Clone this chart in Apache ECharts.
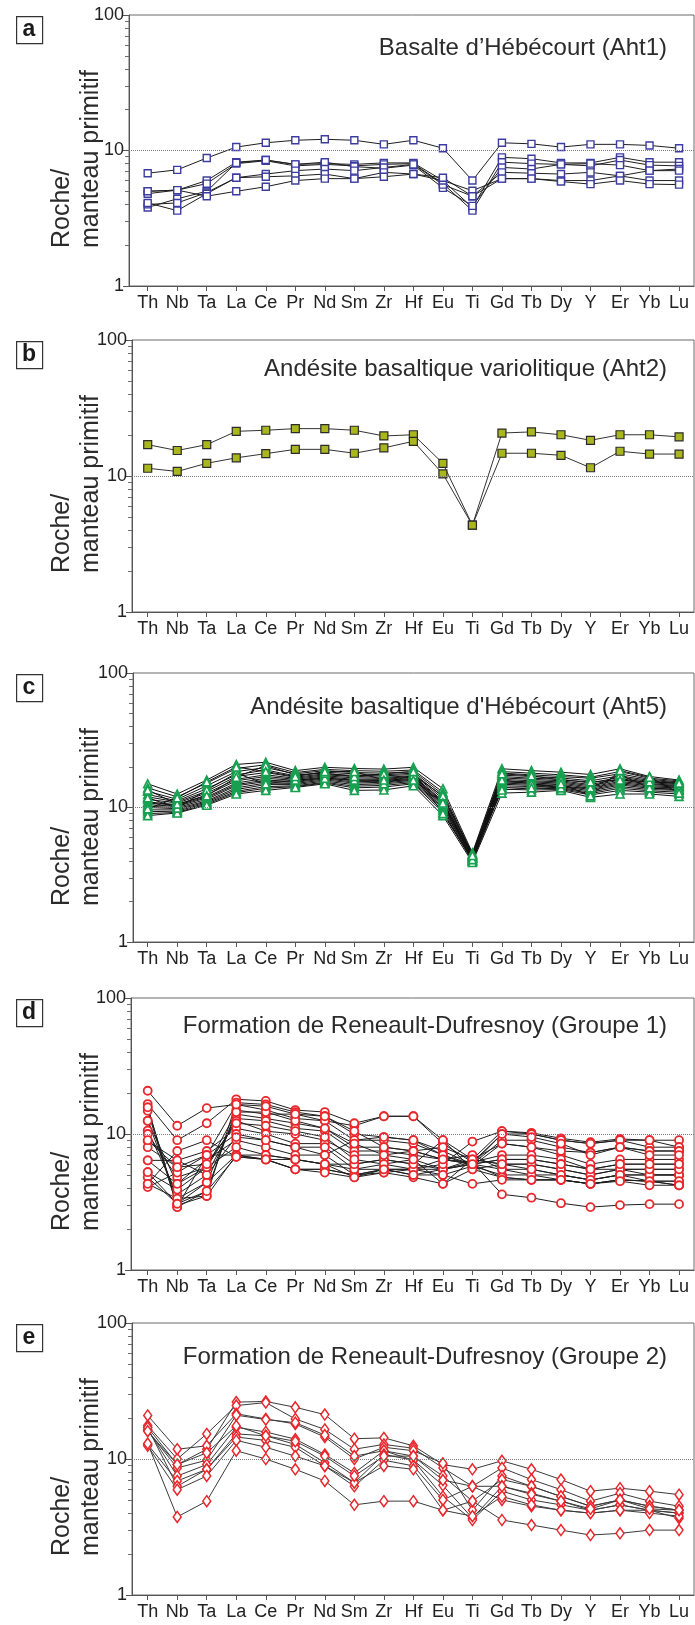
<!DOCTYPE html>
<html><head><meta charset="utf-8">
<script src="https://cdn.jsdelivr.net/npm/echarts@6/dist/echarts.min.js"></script>
<style>html,body{margin:0;padding:0;background:#fff}#c{width:695px;height:1625px}</style>
</head><body><div id="c"></div>
<script>
// ---------- DATA ----------
const elements = ['Th','Nb','Ta','La','Ce','Pr','Nd','Sm','Zr','Hf','Eu','Ti','Gd','Tb','Dy','Y','Er','Yb','Lu'];
const yTickValues = [1, 10, 100];
const minorTickValues = [2,3,4,5,6,7,8,9,20,30,40,50,60,70,80,90];
const referenceLine = 10;

const panelTitles = [
  'Basalte d\u2019Hébécourt (Aht1)',
  'Andésite basaltique variolitique (Aht2)',
  "Andésite basaltique d'Hébécourt (Aht5)",
  'Formation de Reneault-Dufresnoy (Groupe 1)',
  'Formation de Reneault-Dufresnoy (Groupe 2)'
];
const panelLetters = ['a','b','c','d','e'];

// (a) Basalte d'Hébécourt (Aht1)
const aht1 = [
  [6.8,7.2,8.8,10.6,11.4,11.9,12.1,11.9,11.1,11.9,10.4,6.0,11.4,11.2,10.6,11.1,11.1,10.9,10.4],
  [5.0,5.1,6.0,8.2,8.5,7.9,8.0,7.9,8.1,8.1,6.0,3.8,8.9,8.7,8.1,8.1,8.9,8.2,8.2],
  [4.8,5.1,5.7,8.0,8.4,7.7,7.9,7.7,7.9,8.0,5.7,3.6,8.2,8.0,7.9,7.7,8.5,7.8,7.7],
  [3.8,4.4,5.0,8.1,8.5,7.9,8.2,7.6,7.4,7.8,5.3,3.9,7.5,7.3,7.9,8.0,7.8,7.1,7.3],
  [4.0,4.1,4.9,6.3,6.7,7.1,7.3,7.1,7.5,7.9,5.6,4.6,6.9,6.8,6.7,6.9,6.5,7.1,7.1],
  [4.1,3.6,4.8,6.3,6.4,6.5,6.7,6.2,6.9,6.7,6.0,5.05,6.2,6.2,6.0,6.0,6.5,6.0,6.0],
  [5.0,5.1,4.6,5.0,5.4,6.0,6.2,6.2,6.4,6.7,6.3,4.6,6.2,6.2,5.9,5.65,6.0,5.65,5.6]
];

// (b) Andésite basaltique variolitique (Aht2)
const aht2 = [
  [17.0,15.4,17.0,21.3,21.7,22.3,22.3,21.7,19.7,20.1,12.4,4.35,20.7,21.1,20.1,18.3,20.1,20.1,19.4],
  [11.4,10.8,12.4,13.6,14.6,15.7,15.7,14.7,16.1,18.0,10.35,4.35,14.7,14.7,14.2,11.5,15.2,14.5,14.5]
];

// (c) Andésite basaltique d'Hébécourt (Aht5)
const aht5 = [
  [15.0,12.6,16.0,20.9,21.7,18.8,19.9,19.5,19.3,19.9,13.8,4.6,19.4,18.8,18.3,17.6,19.4,17.0,16.0],
  [14.0,12.0,15.2,19.5,20.8,18.2,19.2,18.8,18.6,19.0,13.0,4.5,18.5,18.0,17.5,16.8,18.5,16.5,15.8],
  [13.2,11.5,14.5,18.5,19.8,17.8,18.8,18.2,18.0,18.5,12.5,4.4,18.0,17.5,17.0,16.5,17.8,16.2,15.5],
  [12.5,11.2,13.8,17.5,19.0,17.2,18.3,17.8,17.5,18.0,12.0,4.4,17.4,17.0,16.6,15.8,17.2,15.9,15.3],
  [12.0,11.0,13.2,17.0,18.2,16.8,17.8,17.3,17.2,17.6,11.6,4.3,17.0,16.5,16.2,15.2,16.8,15.6,15.0],
  [11.5,10.8,12.8,16.2,17.5,16.5,17.5,17.0,16.8,17.2,11.2,4.3,16.6,16.2,15.8,14.8,16.4,15.3,14.8],
  [11.0,10.5,12.4,15.8,17.0,16.2,17.2,16.6,16.5,17.0,11.0,4.3,16.2,15.8,15.5,14.5,16.0,15.0,14.6],
  [10.8,10.4,12.0,15.2,16.5,15.9,16.9,16.2,16.2,16.8,10.8,4.2,15.8,15.5,15.2,14.2,15.6,14.8,14.4],
  [10.5,10.2,11.8,14.8,16.0,15.6,16.6,15.8,15.9,16.5,10.5,4.2,15.5,15.2,14.9,13.9,15.3,14.5,14.2],
  [10.2,10.0,11.5,14.5,15.6,15.4,16.3,15.5,15.6,16.2,10.3,4.2,15.2,14.9,14.6,13.6,15.0,14.2,14.0],
  [10.0,9.8,11.2,14.0,15.2,15.1,16.0,15.2,15.3,15.9,10.0,4.1,14.9,14.6,14.3,13.3,14.7,13.9,13.7],
  [9.6,9.6,11.0,13.6,14.8,14.8,15.7,14.8,15.0,15.6,9.8,4.1,14.5,14.3,14.0,13.0,14.3,13.6,13.4],
  [9.3,9.4,10.8,13.2,14.3,14.5,15.4,14.4,14.6,15.3,9.5,4.0,14.1,13.9,13.8,12.7,13.9,13.3,13.0],
  [9.0,9.2,10.6,12.9,13.9,14.3,15.2,14.0,14.2,15.0,9.2,4.0,13.7,13.5,13.6,12.4,13.4,13.0,12.6],
  [8.7,9.1,10.4,12.6,13.4,14.1,15.0,13.4,13.5,14.5,8.7,3.9,12.8,13.0,13.4,11.9,12.6,12.6,12.1],
  [11.8,9.9,13.5,18.0,15.0,16.0,16.5,16.0,15.0,17.5,12.2,4.5,16.0,15.0,14.0,14.0,17.5,14.0,13.5],
  [13.5,10.6,12.2,16.8,20.5,17.5,18.0,17.0,17.8,18.5,9.0,4.1,17.8,17.2,16.0,15.5,16.0,15.5,15.2],
  [9.8,11.8,15.5,20.0,18.5,17.0,18.5,18.5,16.0,16.0,10.8,4.4,13.5,14.0,15.0,12.2,18.8,16.8,12.8]
];

// (d) Formation de Reneault-Dufresnoy (Groupe 1)
const groupe1 = [
  [20.8,11.5,15.5,16.5,15.0,13.0,12.5,11.5,13.5,13.5,9.0,6.5,10.5,10.2,9.3,8.7,9.2,9.0,9.0],
  [16.6,9.0,12.0,18.0,17.5,15.0,14.5,12.0,13.5,13.5,8.5,6.2,10.0,10.0,9.0,8.5,9.0,8.0,8.0],
  [15.7,3.0,3.5,17.0,16.5,14.5,13.5,10.0,9.5,9.0,7.5,6.0,9.0,9.0,8.0,7.3,8.0,7.5,7.5],
  [14.8,2.9,3.8,15.0,14.0,14.0,12.5,9.0,9.0,8.5,7.0,5.8,8.5,8.0,7.0,6.0,6.5,6.5,6.5],
  [12.5,3.35,4.4,14.0,13.0,12.0,11.0,8.0,8.0,7.5,6.5,6.2,7.0,7.0,6.5,5.5,6.0,6.0,6.0],
  [10.6,3.6,5.0,13.0,12.5,11.0,10.5,7.5,7.5,7.0,6.5,6.0,6.5,6.5,6.0,5.5,5.5,5.5,5.5],
  [10.0,4.8,5.7,12.5,10.5,10.0,9.0,7.0,7.0,6.5,5.5,6.5,6.0,6.0,5.5,5.0,5.5,5.0,5.0],
  [8.9,6.4,7.5,11.0,10.0,8.5,8.5,6.0,6.5,6.0,5.5,6.0,5.5,5.5,5.0,4.6,5.0,5.0,5.0],
  [8.0,5.7,7.0,10.0,9.0,8.0,8.0,5.5,6.0,5.5,5.0,5.8,5.0,5.0,4.6,4.3,4.6,4.5,4.5],
  [6.4,4.3,6.5,9.0,8.0,7.0,7.0,5.0,5.5,5.5,5.5,6.0,4.8,4.6,4.6,4.3,4.6,4.5,4.2],
  [5.24,3.9,5.7,8.0,7.0,6.5,6.0,4.8,5.2,4.8,4.3,5.5,4.8,4.6,4.6,4.3,4.6,4.5,4.2],
  [4.8,3.07,4.4,7.0,6.5,5.5,5.5,5.0,5.5,5.0,5.5,6.2,3.6,3.4,3.1,2.9,3.0,3.05,3.05],
  [4.3,7.5,9.0,6.8,6.5,5.5,5.5,5.0,5.2,5.5,6.5,7.0,5.5,5.0,5.0,4.6,5.0,5.0,5.0],
  [4.07,5.2,7.0,7.0,7.0,6.5,6.0,5.5,5.5,5.5,6.0,8.8,10.5,10.0,9.0,8.5,9.0,9.0,8.0],
  [4.3,3.35,3.5,7.0,6.5,6.5,6.0,6.0,6.5,6.0,9.0,5.5,6.0,6.0,5.5,5.0,5.5,5.5,5.5],
  [6.4,6.4,5.0,9.5,9.0,8.0,7.0,9.0,9.5,9.0,7.0,6.0,6.5,6.5,6.0,5.5,6.0,6.0,6.0],
  [12.5,4.3,5.7,14.5,14.5,12.5,11.0,8.5,7.0,7.5,8.0,6.5,8.5,8.0,7.5,7.3,8.0,7.5,7.5],
  [9.0,5.7,6.0,12.0,11.5,10.5,9.5,6.5,6.0,6.5,4.3,6.5,6.0,5.5,5.0,4.6,5.0,4.5,4.5],
  [15.7,2.9,7.0,16.5,16.0,14.0,13.5,10.5,8.0,7.5,6.5,6.0,10.0,9.5,8.5,7.0,8.0,7.0,7.0],
  [5.24,3.07,3.8,6.8,6.5,5.5,5.2,4.8,5.5,5.0,5.0,4.3,4.6,4.6,4.6,4.3,4.5,4.2,4.2]
];

// (e) Formation de Reneault-Dufresnoy (Groupe 2)
const groupe2 = [
  [17.1,9.1,11.8,26.2,26.5,24.0,21.2,14.1,14.3,12.5,9.1,8.4,9.7,8.4,7.06,5.8,6.1,5.8,5.47],
  [17.6,10.0,15.3,24.7,26.0,19.7,16.5,11.8,12.8,12.0,8.6,6.3,8.6,7.06,5.95,4.9,5.6,4.9,4.5],
  [20.9,11.8,12.5,21.5,19.7,18.1,14.5,10.0,12.2,11.5,9.3,4.2,7.5,6.3,5.3,4.5,5.0,4.5,4.2],
  [16.1,8.6,9.8,21.0,19.5,18.5,15.0,10.5,11.5,10.5,7.5,4.9,7.06,6.3,5.3,4.5,5.0,4.5,4.2],
  [16.5,7.5,9.1,17.1,15.8,14.0,10.8,7.9,11.5,9.8,6.4,3.67,6.3,5.6,4.9,4.2,4.6,4.2,4.0],
  [12.8,6.9,8.4,15.3,14.8,12.8,9.4,6.7,10.8,9.8,5.3,3.56,5.8,5.0,4.6,4.2,4.6,4.2,4.0],
  [17.0,6.3,8.4,14.5,13.7,12.2,8.9,6.3,9.8,8.9,5.0,6.3,5.0,4.5,4.2,4.0,4.2,4.2,3.67],
  [12.5,5.95,7.5,13.7,12.2,10.5,8.9,6.7,8.9,8.4,4.2,3.8,5.3,4.6,4.2,4.0,4.2,4.0,3.8],
  [13.0,3.75,4.9,11.5,10.0,8.4,6.9,4.6,4.9,4.9,4.2,4.9,3.56,3.27,3.0,2.76,2.84,3.0,3.0],
  [16.0,9.1,11.1,17.5,14.8,13.5,10.5,7.5,10.5,10.5,7.0,6.3,6.3,5.5,4.9,4.3,5.0,4.3,4.2]
];

const panelData = [aht1, aht2, aht5, groupe1, groupe2];

// ---------- LAYOUT / STYLE ----------
const FONT = '"Liberation Sans", Arial, Helvetica, sans-serif';
const layout = [
  {top: 15,   bottom: 286,  left: 129, titleY: 49},
  {top: 340,  bottom: 612,  left: 132, titleY: 370},
  {top: 673,  bottom: 942,  left: 133, titleY: 708},
  {top: 998,  bottom: 1270, left: 131, titleY: 1027},
  {top: 1323, bottom: 1595, left: 132, titleY: 1358}
];
const PLOT_RIGHT = 694, FIRST_X = 147.7, STEP = 29.52;

const markerStyles = [
  {symbol: 'rect', size: 7, fill: '#ffffff', stroke: '#3c3ca0', bw: 1.4, line: '#1e1e1e'},
  {symbol: 'rect', size: 8, fill: '#a9b61e', stroke: '#2a2a2a', bw: 1.2, line: '#333333'},
  {symbol: 'triangle', size: 8, fill: '#ffffff', stroke: '#17a050', bw: 1.6, line: '#111111'},
  {symbol: 'circle', size: 8, fill: '#ffffff', stroke: '#e8262b', bw: 1.8, line: '#1e1e1e'},
  {symbol: 'diamond', size: [8, 11], fill: '#ffffff', stroke: '#e8262b', bw: 1.5, line: '#3a3a3a'}
];

const chart = echarts.init(document.getElementById('c'), null, {renderer: 'canvas'});

const grid = [], xAxis = [], yAxis = [], series = [], graphic = [], title = [];
const idx = elements.map((e, i) => i);

layout.forEach((L, p) => {
  grid.push({left: L.left, right: 695 - PLOT_RIGHT, top: L.top, height: L.bottom - L.top,
    show: true, borderColor: '#6a6a6a', borderWidth: 1, backgroundColor: 'transparent'});
  xAxis.push({
    type: 'value', gridIndex: p,
    min: -(FIRST_X - L.left) / STEP,
    max: (PLOT_RIGHT - FIRST_X) / STEP,
    axisLine: {show: true, onZero: false, lineStyle: {color: '#555', width: 1}},
    axisTick: {show: true, length: 5, customValues: idx, lineStyle: {color: '#555'}},
    axisLabel: {show: true, customValues: idx, margin: 8, fontSize: 18, color: '#222', fontFamily: FONT,
      formatter: v => elements[Math.round(v)]},
    splitLine: {show: false}
  });
  // major axis: labels and ticks at 1 / 10 / 100
  yAxis.push({
    type: 'log', logBase: 10, min: 1, max: 100, gridIndex: p,
    axisLine: {show: true, onZero: false, lineStyle: {color: '#555', width: 1}},
    axisTick: {show: true, length: 6, customValues: yTickValues, lineStyle: {color: '#555'}},
    axisLabel: {show: true, customValues: yTickValues, margin: 5, fontSize: 18, color: '#222', fontFamily: FONT,
      formatter: v => String(Math.round(v))},
    splitLine: {show: false}
  });
  // minor ticks at 2..9, 20..90 on the same log scale
  yAxis.push({
    type: 'log', logBase: 10, min: 1, max: 100, gridIndex: p, position: 'left',
    axisLine: {show: false, onZero: false}, axisLabel: {show: false}, splitLine: {show: false},
    axisTick: {show: true, length: 4, customValues: minorTickValues,
      lineStyle: {color: '#6e6e6e', width: 1}}
  });

  const st = markerStyles[p];
  panelData[p].forEach((row, s) => {
    const ser = {
      type: 'line', xAxisIndex: p, yAxisIndex: p * 2,
      data: row.map((v, i) => [i, v]),
      symbol: st.symbol, symbolSize: st.size, showSymbol: true, showAllSymbol: true,
      lineStyle: {color: st.line, width: 1},
      itemStyle: {color: st.fill, borderColor: st.stroke, borderWidth: st.bw},
      emphasis: {disabled: true}, animation: false, silent: true
    };
    if (s === 0) {
      ser.markLine = {silent: true, symbol: 'none', label: {show: false}, animation: false,
        lineStyle: {type: 'dotted', color: '#7a7a7a', width: 1},
        data: [{yAxis: referenceLine}]};
    }
    series.push(ser);
  });

  title.push({text: panelTitles[p], right: 695 - 667, top: L.titleY - 13, padding: 0,
    textStyle: {fontSize: 24, fontWeight: 'normal', color: '#2b2b2b', fontFamily: FONT}});

  graphic.push({type: 'rect', left: 16, top: L.top + 1, shape: {width: 26, height: 27},
    style: {fill: '#fff', stroke: '#333', lineWidth: 1.2}, z: 100});
  graphic.push({type: 'text', x: 29, y: L.top + 15, z: 101,
    style: {text: panelLetters[p], font: 'bold 23px ' + FONT, fill: '#1a1a1a',
      textAlign: 'center', textVerticalAlign: 'middle', verticalAlign: 'middle'}});
  graphic.push({type: 'text', x: 62, y: L.top + 233, rotation: Math.PI / 2, z: 101,
    style: {text: 'Roche/', font: '25px ' + FONT, fill: '#2b2b2b',
      textAlign: 'left', textVerticalAlign: 'middle', verticalAlign: 'middle'}});
  graphic.push({type: 'text', x: 91, y: L.top + 233, rotation: Math.PI / 2, z: 101,
    style: {text: 'manteau primitif', font: '25px ' + FONT, fill: '#2b2b2b',
      textAlign: 'left', textVerticalAlign: 'middle', verticalAlign: 'middle'}});
});

chart.setOption({
  animation: false, backgroundColor: '#ffffff',
  title, grid, xAxis, yAxis, series, graphic
});
</script></body></html>
